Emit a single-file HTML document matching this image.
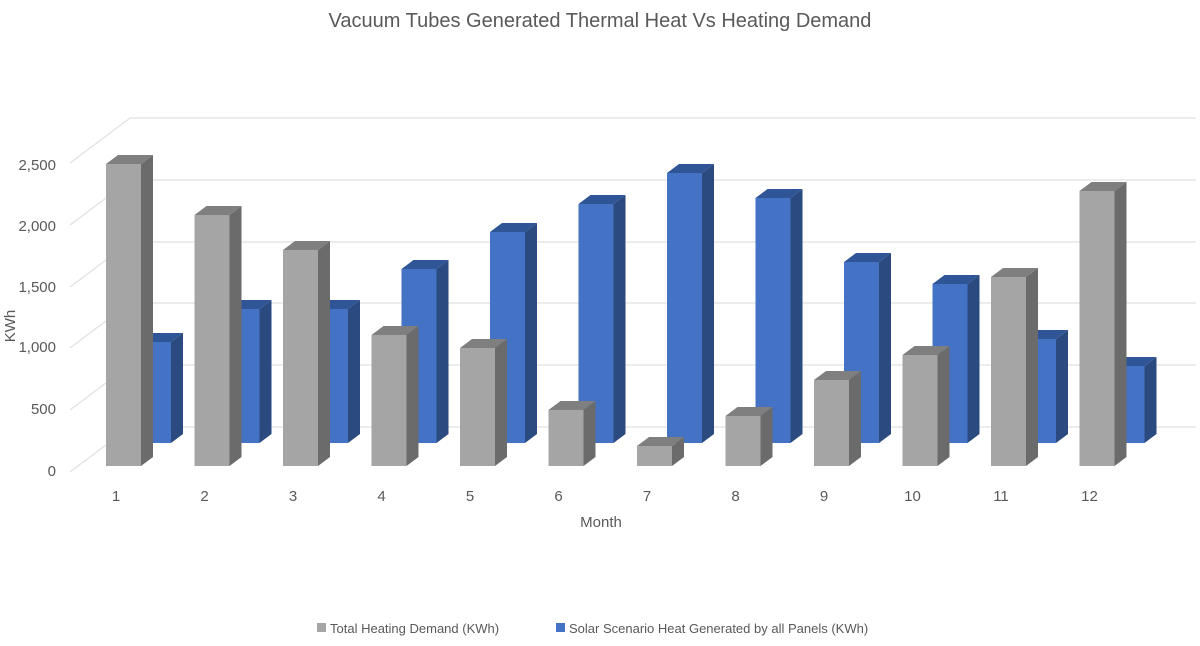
<!DOCTYPE html>
<html><head><meta charset="utf-8"><style>
body{margin:0;background:#fff}
svg{display:block;font-family:"Liberation Sans",sans-serif}
</style></head><body>
<svg width="1200" height="646" viewBox="0 0 1200 646">
<rect width="1200" height="646" fill="#fff"/>
<text x="600" y="27" text-anchor="middle" font-size="20" fill="#595959">Vacuum Tubes Generated Thermal Heat Vs Heating Demand</text>
<g stroke="#e0e0e0" stroke-width="1.2" fill="none">
<line x1="130" y1="118" x2="1196" y2="118"/><line x1="130" y1="118" x2="70" y2="163"/>
<line x1="130" y1="180" x2="1196" y2="180"/><line x1="130" y1="180" x2="70" y2="225"/>
<line x1="130" y1="242" x2="1196" y2="242"/><line x1="130" y1="242" x2="70" y2="287"/>
<line x1="130" y1="303" x2="1196" y2="303"/><line x1="130" y1="303" x2="70" y2="348"/>
<line x1="130" y1="365" x2="1196" y2="365"/><line x1="130" y1="365" x2="70" y2="410"/>
<line x1="130" y1="427" x2="1196" y2="427"/><line x1="130" y1="427" x2="70" y2="472"/>
</g>
<g font-size="15" fill="#595959" text-anchor="end">
<text x="56" y="170">2,500</text><text x="56" y="231">2,000</text><text x="56" y="292">1,500</text>
<text x="56" y="352">1,000</text><text x="56" y="414">500</text><text x="56" y="476">0</text>
</g>
<text transform="translate(15,326) rotate(-90)" text-anchor="middle" font-size="15" fill="#595959">KWh</text>
<g id="bars"></g>
<g font-size="15" fill="#595959" text-anchor="middle" id="xl"></g>
<text x="601" y="527" text-anchor="middle" font-size="15" fill="#595959">Month</text>
<rect x="317" y="623" width="9" height="9" fill="#a5a5a5"/>
<text x="330" y="633" font-size="13" fill="#595959">Total Heating Demand (KWh)</text>
<rect x="556" y="623" width="9" height="9" fill="#4472c4"/>
<text x="569" y="633" font-size="13" fill="#595959">Solar Scenario Heat Generated by all Panels (KWh)</text>
</svg>
<script>
var g=[164,215,250,335,348,410,446,416,380,355,277,191];
var b=[342,309,309,269,232,204,173,198,262,284,339,366];
var s='',l='';
function bar(x,top,bot,f,sd,tp){
 var w=35,dx=12,dy=9;
 return '<polygon points="'+(x+w)+','+top+' '+(x+w+dx)+','+(top-dy)+' '+(x+w+dx)+','+(bot-dy)+' '+(x+w)+','+bot+'" fill="'+sd+'"/>'+
 '<polygon points="'+x+','+top+' '+(x+dx)+','+(top-dy)+' '+(x+w+dx)+','+(top-dy)+' '+(x+w)+','+top+'" fill="'+tp+'"/>'+
 '<rect x="'+x+'" y="'+top+'" width="'+w+'" height="'+(bot-top)+'" fill="'+f+'"/>';
}
for(var i=0;i<12;i++){
 var x=106+88.5*i;
 s+=bar(x+30,b[i],443,'#4472c4','#2a4a80','#2f5597');
 s+=bar(x,g[i],466,'#a5a5a5','#6b6b6b','#7f7f7f');
 l+='<text x="'+(x+10)+'" y="501">'+(i+1)+'</text>';
}
document.getElementById('bars').innerHTML=s;
document.getElementById('xl').innerHTML=l;
</script>
</body></html>
